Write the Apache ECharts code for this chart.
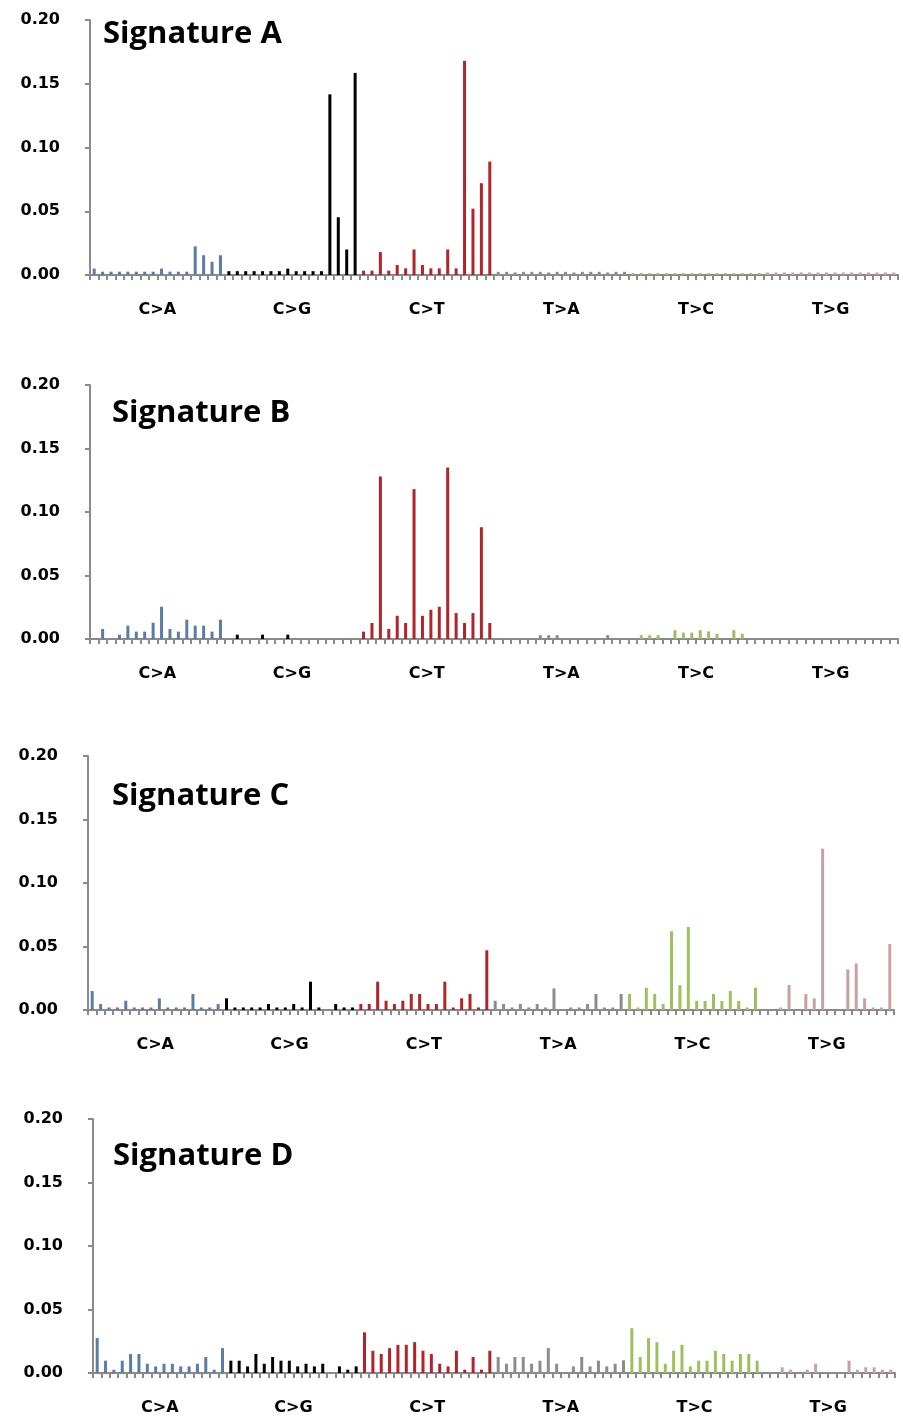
<!DOCTYPE html>
<html><head><meta charset="utf-8">
<script src="https://cdn.jsdelivr.net/npm/echarts@6/dist/echarts.min.js"></script>
<style>html,body{margin:0;padding:0;background:#fff}#c{width:903px;height:1416px}</style>
</head><body><div id="c"></div>
<script>
// ---- data ----
const mutationTypes = ['C>A','C>G','C>T','T>A','T>C','T>G'];
const typeColors = ['#5b7ca6','#000000','#b0242a','#8c8c8c','#9dc15a','#c9a0a0'];
const bases = ['A','C','G','T'];
const yTickValues = [0, 0.05, 0.10, 0.15, 0.20];
const signatureNames = ['Signature A','Signature B','Signature C','Signature D'];

// 96 trinucleotide contexts (category names)
const categories = [];
mutationTypes.forEach(t => bases.forEach(l => bases.forEach(r => categories.push(l + '[' + t + ']' + r))));

const sigA = [
  0.005,0.0026,0.0026,0.0026,0.0026,0.0026,0.0026,0.0026,0.005,0.0026,0.0026,0.0026,0.0225,0.0155,0.0104,0.0155,
  0.003,0.003,0.003,0.003,0.003,0.003,0.003,0.005,0.003,0.003,0.003,0.003,0.1417,0.0453,0.020,0.1585,
  0.0034,0.0034,0.018,0.0034,0.0078,0.0052,0.020,0.0078,0.0052,0.0052,0.020,0.0052,0.168,0.052,0.072,0.089,
  0.0025,0.0025,0.002,0.0025,0.0025,0.0025,0.002,0.0025,0.0025,0.002,0.0025,0.0025,0.0025,0.002,0.0025,0.0025,
  0.0015,0.0015,0.0015,0.0015,0.0015,0.0015,0.0015,0.0015,0.0015,0.0015,0.0015,0.0015,0.0015,0.0015,0.0015,0.0015,
  0.002,0.002,0.002,0.002,0.002,0.002,0.002,0.002,0.002,0.002,0.002,0.002,0.002,0.002,0.002,0.002
];
const sigB = [
  0,0.0079,0,0.0034,0.0105,0.0058,0.0058,0.0128,0.0254,0.0079,0.0058,0.0152,0.0105,0.0105,0.0058,0.0152,
  0,0.0034,0,0,0.0034,0,0,0.0034,0,0,0,0,0,0,0,0,
  0.0058,0.0126,0.128,0.0079,0.0183,0.0126,0.118,0.0183,0.023,0.0254,0.135,0.0204,0.0126,0.0204,0.088,0.0126,
  0,0,0,0,0,0.003,0.003,0.003,0,0,0,0,0,0.003,0,0,
  0,0.003,0.003,0.003,0,0.007,0.005,0.005,0.007,0.006,0.004,0,0.007,0.004,0,0,
  0,0,0,0,0,0,0,0,0,0,0,0,0,0,0,0
];
const sigC = [
  0.0149,0.0047,0.002,0.002,0.0073,0.002,0.002,0.002,0.0092,0.002,0.002,0.002,0.0126,0.002,0.002,0.0047,
  0.0092,0.002,0.002,0.002,0.002,0.0047,0.002,0.002,0.0047,0.002,0.0223,0.002,0,0.0047,0.002,0.002,
  0.0047,0.0047,0.0223,0.0073,0.0047,0.0073,0.0126,0.0126,0.0047,0.0047,0.0223,0.002,0.0092,0.0126,0.002,0.047,
  0.0073,0.0047,0.002,0.0047,0.002,0.0047,0.002,0.017,0,0.002,0.002,0.0047,0.0126,0.002,0.002,0.0126,
  0.0126,0.002,0.0175,0.0126,0.0047,0.062,0.0196,0.0654,0.0071,0.0071,0.0126,0.0071,0.015,0.0071,0.002,0.0175,
  0,0,0.002,0.0196,0,0.0126,0.0092,0.127,0,0,0.032,0.0366,0.0092,0.002,0.002,0.052
];
const sigD = [
  0.0275,0.0097,0.0026,0.0097,0.015,0.015,0.0073,0.0052,0.0073,0.0073,0.0052,0.0052,0.0073,0.0126,0.0026,0.0196,
  0.0097,0.0097,0.0052,0.015,0.0073,0.0126,0.0097,0.0097,0.0052,0.0073,0.0052,0.0073,0,0.0052,0.0026,0.0052,
  0.032,0.0175,0.015,0.0196,0.0222,0.0222,0.0243,0.0175,0.015,0.0073,0.0052,0.0175,0.0026,0.0126,0.0026,0.0175,
  0.0126,0.0073,0.0126,0.0126,0.0073,0.0097,0.0196,0.0073,0,0.0052,0.0126,0.0052,0.0097,0.0052,0.0073,0.01,
  0.0353,0.0126,0.0275,0.0243,0.0073,0.0175,0.0222,0.0052,0.0097,0.0097,0.0175,0.015,0.0097,0.015,0.015,0.0097,
  0,0,0.0045,0.0026,0,0.0026,0.0073,0,0,0,0.0097,0.0026,0.0045,0.0045,0.0026,0.0026
];
const signatures = [sigA, sigB, sigC, sigD];

// ---- layout (positions only) ----
const panels = [
  {left: 90, width: 808, top: 20,   height: 255, tx: 103, ty: 33},
  {left: 90, width: 808, top: 385,  height: 254, tx: 112, ty: 412},
  {left: 88, width: 806, top: 756,  height: 254, tx: 112, ty: 795},
  {left: 93, width: 802, top: 1119, height: 254, tx: 113, ty: 1155}
];
const axisGrey = '#8a8a8a';
const labelFont = 'DejaVu Sans';

const option = {
  animation: false,
  backgroundColor: '#ffffff',
  grid: [], xAxis: [], yAxis: [], series: [], graphic: []
};

panels.forEach((p, k) => {
  option.grid.push({left: p.left, top: p.top, width: p.width, height: p.height, containLabel: false});
  option.xAxis.push({
    type: 'category', gridIndex: k, data: categories, boundaryGap: true,
    axisLine: {show: true, lineStyle: {color: axisGrey, width: 2}},
    axisTick: {show: true, interval: 0, length: 5, lineStyle: {color: axisGrey, width: 2}},
    axisLabel: {show: false}, splitLine: {show: false}
  });
  option.xAxis.push({
    type: 'category', gridIndex: k, data: mutationTypes, position: 'bottom',
    axisLine: {show: false}, axisTick: {show: false}, splitLine: {show: false},
    axisLabel: {show: true, margin: 27, fontFamily: labelFont, fontWeight: 'bold', fontSize: 16, color: '#000'}
  });
  option.yAxis.push({
    type: 'value', gridIndex: k, min: 0, max: 0.2, interval: 0.05,
    axisLine: {show: true, lineStyle: {color: axisGrey, width: 2}},
    axisTick: {show: true, length: 5, lineStyle: {color: axisGrey, width: 2}},
    splitLine: {show: false},
    axisLabel: {margin: 30, fontFamily: labelFont, fontWeight: 'bold', fontSize: 16, color: '#000',
      formatter: v => v.toFixed(2)}
  });
  option.series.push({
    type: 'bar', xAxisIndex: 2 * k, yAxisIndex: k, barWidth: 3,
    data: signatures[k].map((v, i) => ({value: v, itemStyle: {color: typeColors[Math.floor(i / 16)]}}))
  });
  option.graphic.push({
    type: 'text', left: p.tx, top: p.ty - 14,
    style: {text: signatureNames[k], font: 'bold 31px "Open Sans"', fill: '#000'}
  });
});

const chart = echarts.init(document.getElementById('c'), null, {renderer: 'canvas'});
chart.setOption(option);
</script>
</body></html>
